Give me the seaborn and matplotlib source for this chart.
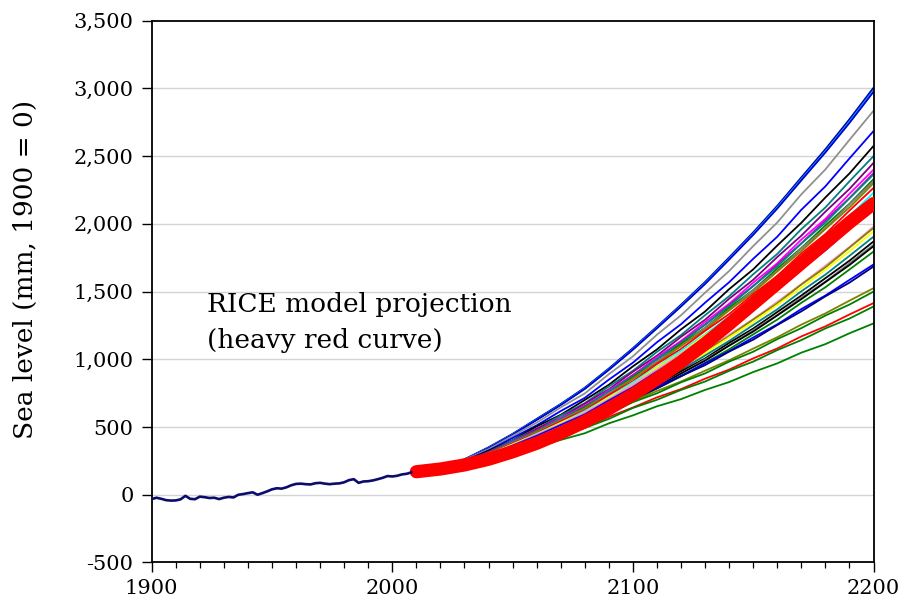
import matplotlib
matplotlib.use("Agg")
import matplotlib.pyplot as plt
from matplotlib.ticker import FuncFormatter, MultipleLocator
import seaborn as sns
import pandas as pd

# ---------------- data ----------------
hist_years = list(range(1900, 2010, 2))
hist_level = [-32, -22, -30, -40, -43, -42, -34, -8, -30, -33, -14, -18, -24, -22,
              -32, -22, -16, -20, 0, 5, 12, 18, 0, 12, 25, 40, 48, 45, 55, 70, 80,
              82, 78, 76, 85, 88, 82, 78, 82, 84, 92, 108, 115, 88, 98, 100, 106,
              115, 125, 138, 135, 140, 150, 155, 165]

proj_years = list(range(2010, 2201, 10))

rice_level = [170, 190, 220, 262, 317, 380, 455, 540, 635, 740, 855, 980, 1115,
              1260, 1410, 1560, 1710, 1860, 2010, 2150]

proj_colors = ["#000080", "#0000ff", "#00c8ff", "#0000cd", "#909090", "#0000ff",
               "#000000", "#008080", "#800080", "#ff00ff", "#cc00cc", "#008080",
               "#008000", "#808080", "#808000", "#ff0000", "#00ffff", "#ffff00",
               "#c0c0c0", "#ff80c0", "#0000ff", "#ff99cc", "#808000", "#ffff00",
               "#008080", "#000000", "#808080", "#000000", "#008000", "#0000ff",
               "#000080", "#808000", "#008000", "#ff0000", "#008000", "#008000"]

proj_series = [
    [165, 199, 262, 350, 449, 560, 670, 790, 932, 1082, 1241, 1403, 1571, 1752, 1937, 2133, 2343, 2551, 2772, 3005],
    [165, 198, 260, 347, 447, 556, 667, 786, 927, 1077, 1236, 1397, 1564, 1745, 1929, 2124, 2333, 2540, 2760, 2995],
    [165, 197, 259, 345, 445, 554, 665, 784, 925, 1074, 1233, 1394, 1561, 1741, 1925, 2120, 2328, 2534, 2754, 2985],
    [165, 196, 257, 343, 443, 552, 662, 781, 922, 1071, 1229, 1390, 1556, 1736, 1919, 2113, 2321, 2527, 2745, 2975],
    [165, 195, 258, 336, 435, 532, 645, 748, 890, 1022, 1182, 1325, 1492, 1652, 1836, 2010, 2218, 2402, 2620, 2835],
    [165, 193, 253, 326, 420, 512, 618, 715, 850, 975, 1126, 1259, 1418, 1569, 1742, 1905, 2104, 2277, 2483, 2685],
    [165, 196, 245, 325, 403, 505, 590, 700, 812, 948, 1073, 1221, 1353, 1518, 1664, 1840, 2008, 2195, 2372, 2575],
    [165, 192, 246, 315, 402, 487, 585, 676, 800, 915, 1055, 1179, 1326, 1466, 1628, 1778, 1961, 2121, 2314, 2500],
    [165, 194, 241, 316, 391, 487, 569, 672, 779, 908, 1027, 1166, 1292, 1447, 1587, 1755, 1913, 2090, 2258, 2450],
    [165, 190, 243, 308, 392, 473, 567, 653, 772, 883, 1017, 1135, 1276, 1410, 1566, 1709, 1884, 2037, 2222, 2400],
    [165, 193, 238, 311, 383, 475, 555, 655, 758, 884, 999, 1133, 1255, 1404, 1540, 1701, 1856, 2025, 2190, 2375],
    [165, 189, 242, 305, 388, 468, 560, 646, 763, 872, 1004, 1120, 1258, 1391, 1542, 1686, 1856, 2009, 2189, 2365],
    [165, 191, 236, 308, 378, 469, 546, 644, 746, 868, 982, 1113, 1233, 1379, 1512, 1669, 1822, 1988, 2148, 2330],
    [165, 188, 240, 302, 383, 461, 551, 635, 750, 855, 984, 1098, 1233, 1363, 1511, 1651, 1818, 1967, 2143, 2315],
    [165, 192, 235, 306, 376, 465, 542, 638, 737, 859, 970, 1100, 1218, 1362, 1493, 1649, 1799, 1962, 2121, 2300],
    [165, 189, 238, 300, 378, 454, 543, 623, 737, 838, 966, 1077, 1210, 1334, 1480, 1616, 1781, 1925, 2098, 2265],
    [165, 188, 233, 298, 370, 450, 530, 617, 720, 830, 945, 1062, 1184, 1316, 1451, 1593, 1746, 1897, 2058, 2230],
    [165, 187, 236, 295, 372, 445, 531, 609, 718, 818, 940, 1048, 1176, 1299, 1439, 1571, 1730, 1870, 2037, 2200],
    [165, 190, 232, 298, 364, 448, 521, 611, 706, 819, 926, 1047, 1159, 1294, 1419, 1564, 1707, 1861, 2012, 2180],
    [165, 188, 233, 293, 366, 440, 519, 601, 703, 805, 919, 1029, 1150, 1274, 1406, 1540, 1689, 1831, 1989, 2150],
    [165, 186, 233, 290, 363, 435, 515, 593, 696, 794, 909, 1015, 1136, 1256, 1388, 1518, 1667, 1805, 1963, 2120],
    [165, 189, 225, 285, 345, 419, 486, 566, 653, 753, 851, 958, 1061, 1182, 1296, 1425, 1555, 1692, 1829, 1980],
    [165, 185, 228, 280, 348, 414, 489, 560, 655, 746, 852, 950, 1061, 1171, 1294, 1413, 1552, 1679, 1825, 1970],
    [165, 188, 224, 283, 341, 414, 480, 559, 644, 742, 838, 943, 1044, 1162, 1274, 1401, 1528, 1662, 1797, 1945],
    [165, 185, 226, 276, 341, 405, 477, 546, 637, 725, 826, 922, 1028, 1136, 1253, 1369, 1502, 1625, 1764, 1905],
    [165, 187, 221, 279, 334, 404, 466, 543, 623, 718, 809, 911, 1006, 1121, 1227, 1349, 1471, 1599, 1728, 1870],
    [165, 184, 224, 272, 335, 397, 466, 533, 621, 706, 804, 895, 999, 1102, 1215, 1327, 1456, 1574, 1709, 1845],
    [165, 186, 220, 276, 330, 399, 460, 534, 614, 706, 796, 895, 990, 1101, 1205, 1324, 1444, 1570, 1696, 1835],
    [165, 183, 222, 269, 330, 390, 457, 522, 607, 689, 785, 874, 974, 1074, 1184, 1293, 1417, 1532, 1663, 1795],
    [165, 188, 231, 283, 344, 401, 469, 536, 624, 708, 797, 877, 971, 1060, 1161, 1258, 1371, 1471, 1586, 1700],
    [165, 186, 226, 286, 337, 404, 461, 537, 615, 708, 785, 876, 957, 1057, 1145, 1253, 1354, 1465, 1566, 1685],
    [165, 190, 235, 285, 344, 394, 459, 523, 610, 688, 766, 836, 916, 993, 1079, 1163, 1256, 1339, 1433, 1525],
    [165, 188, 230, 287, 336, 395, 449, 522, 596, 684, 749, 830, 896, 983, 1056, 1149, 1230, 1323, 1404, 1500],
    [165, 187, 230, 276, 330, 376, 437, 493, 575, 644, 719, 780, 857, 924, 1007, 1080, 1169, 1243, 1331, 1415],
    [165, 189, 224, 277, 321, 376, 425, 493, 560, 641, 701, 774, 836, 915, 983, 1068, 1142, 1228, 1301, 1390],
    [165, 185, 222, 262, 311, 349, 405, 454, 527, 586, 653, 706, 774, 832, 906, 970, 1049, 1112, 1192, 1265],
]

y_ticks = [-500, 0, 500, 1000, 1500, 2000, 2500, 3000, 3500]
x_ticks = [1900, 2000, 2100, 2200]
y_label = "Sea level (mm, 1900 = 0)"
note_lines = ["RICE model projection", "(heavy red curve)"]

# ---------------- style ----------------
sns.set_style("white")
plt.rcParams["font.family"] = ["DejaVu Serif"]
plt.rcParams["text.color"] = "black"
plt.rcParams["axes.labelcolor"] = "black"
plt.rcParams["xtick.color"] = "black"
plt.rcParams["ytick.color"] = "black"

fig = plt.figure(figsize=(9.05, 6.09), dpi=100)
ax = fig.add_axes([0.1676, 0.0764, 0.7976, 0.8896])

rows = []
for i, vals in enumerate(proj_series):
    for yr, v in zip(proj_years, vals):
        rows.append({"line": f"s{i}", "year": yr, "level": v})
proj_df = pd.DataFrame(rows)

# gridlines
for yv in y_ticks[1:-1]:
    ax.axhline(yv, color="#d4d4d4", lw=1.0, zorder=0)

sns.lineplot(data=proj_df, x="year", y="level", hue="line",
             palette=proj_colors, estimator=None, legend=False,
             linewidth=1.3, ax=ax, zorder=2)

sns.lineplot(x=proj_years, y=rice_level, color="#ff0000", linewidth=9.5,
             estimator=None, ax=ax, zorder=3, solid_capstyle="round")

sns.lineplot(x=hist_years, y=hist_level, color="#0c0c6e", linewidth=1.9,
             estimator=None, ax=ax, zorder=4)

ax.set_xlim(1900, 2200)
ax.set_ylim(-500, 3500)
ax.set_yticks(y_ticks)
ax.set_xticks(x_ticks)
ax.xaxis.set_minor_locator(MultipleLocator(10))
ax.yaxis.set_major_formatter(FuncFormatter(lambda v, p: f"{int(v):,}"))

ax.tick_params(axis="y", which="major", direction="out", length=7, width=1,
               labelsize=15, pad=6, left=True, colors="black")
ax.tick_params(axis="x", which="major", direction="out", length=7, width=1,
               labelsize=15, pad=5, bottom=True, colors="black")
ax.tick_params(axis="x", which="minor", direction="out", length=4, width=0.9,
               bottom=True, colors="black")

for s in ax.spines.values():
    s.set_color("black")
    s.set_linewidth(1.3)
    s.set_visible(True)

ax.set_xlabel("")
ax.set_ylabel(y_label, fontsize=19, color="black")
ax.yaxis.set_label_coords(-0.158, 0.54)

ax.text(1923, 1348, note_lines[0], fontsize=19, va="baseline", ha="left", color="black")
ax.text(1923, 1080, note_lines[1], fontsize=19, va="baseline", ha="left", color="black")

fig.savefig("out.png", dpi=100)
